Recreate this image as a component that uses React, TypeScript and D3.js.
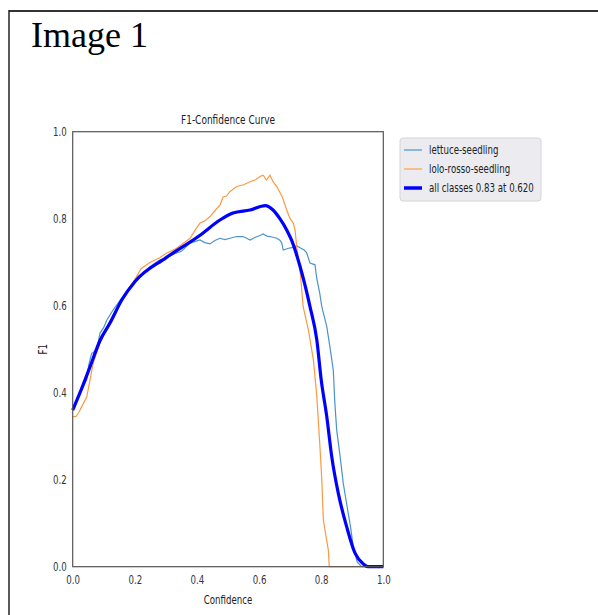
import { useEffect, useRef } from "react";
import * as d3 from "d3";

// F1 values, [confidence, f1]
const lettuceSeedling: [number, number][] = [
  [0, 0.36], [0.007, 0.368], [0.015, 0.385], [0.024, 0.4], [0.034, 0.414], [0.045, 0.43],
  [0.052, 0.465], [0.061, 0.49], [0.07, 0.495], [0.077, 0.498], [0.088, 0.537], [0.1, 0.55],
  [0.11, 0.567], [0.13, 0.59], [0.15, 0.61], [0.17, 0.63], [0.2, 0.655], [0.22, 0.67],
  [0.25, 0.69], [0.28, 0.705], [0.3, 0.71], [0.33, 0.72], [0.35, 0.725], [0.378, 0.744],
  [0.395, 0.748], [0.41, 0.751], [0.425, 0.745], [0.442, 0.742], [0.458, 0.75], [0.474, 0.755],
  [0.49, 0.752], [0.506, 0.755], [0.528, 0.759], [0.548, 0.759], [0.56, 0.755], [0.571, 0.751],
  [0.59, 0.758], [0.605, 0.762], [0.613, 0.765], [0.625, 0.76], [0.635, 0.759], [0.657, 0.755],
  [0.668, 0.75], [0.673, 0.744], [0.678, 0.728], [0.695, 0.732], [0.71, 0.734], [0.72, 0.738],
  [0.732, 0.733], [0.745, 0.728], [0.753, 0.722], [0.764, 0.698], [0.78, 0.694], [0.786, 0.662],
  [0.795, 0.63], [0.802, 0.598], [0.81, 0.575], [0.818, 0.552], [0.828, 0.506], [0.839, 0.452],
  [0.844, 0.376], [0.85, 0.314], [0.861, 0.253], [0.871, 0.192], [0.887, 0.123], [0.895, 0.09],
  [0.903, 0.046], [0.916, 0.011], [0.93, 0], [1.0, 0],
];

const loloRossoSeedling: [number, number][] = [
  [0, 0.345], [0.01, 0.345], [0.02, 0.355], [0.029, 0.368], [0.045, 0.39], [0.056, 0.43],
  [0.066, 0.468], [0.088, 0.514], [0.1, 0.535], [0.12, 0.565], [0.14, 0.59], [0.16, 0.615],
  [0.18, 0.64], [0.2, 0.66], [0.22, 0.685], [0.25, 0.7], [0.28, 0.71], [0.3, 0.72],
  [0.33, 0.73], [0.35, 0.74], [0.378, 0.755], [0.395, 0.775], [0.41, 0.79], [0.425, 0.795],
  [0.442, 0.805], [0.46, 0.82], [0.474, 0.831], [0.484, 0.85], [0.495, 0.852], [0.506, 0.862],
  [0.528, 0.874], [0.55, 0.878], [0.571, 0.885], [0.59, 0.89], [0.603, 0.897], [0.613, 0.9],
  [0.624, 0.889], [0.635, 0.9], [0.645, 0.885], [0.657, 0.874], [0.675, 0.85], [0.689, 0.82],
  [0.7, 0.8], [0.71, 0.79], [0.716, 0.774], [0.721, 0.736], [0.732, 0.682], [0.742, 0.598],
  [0.759, 0.544], [0.775, 0.475], [0.786, 0.391], [0.796, 0.276], [0.802, 0.199], [0.807, 0.107],
  [0.823, 0.038], [0.826, 0], [1.0, 0],
];

const allClasses: [number, number][] = [
  [0, 0.36], [0.0235, 0.4], [0.056, 0.46], [0.088, 0.52], [0.12, 0.56], [0.158, 0.613],
  [0.2, 0.655], [0.3, 0.71], [0.41, 0.762], [0.474, 0.797], [0.516, 0.813], [0.571, 0.82],
  [0.62, 0.83], [0.645, 0.82], [0.667, 0.8], [0.689, 0.774], [0.705, 0.75], [0.732, 0.69],
  [0.764, 0.598], [0.786, 0.521], [0.8, 0.43], [0.818, 0.345], [0.834, 0.253], [0.855, 0.169],
  [0.882, 0.092], [0.909, 0.031], [0.936, 0.006], [0.95, 0], [1.0, 0],
];

const seriesNames = ["lettuce-seedling", "lolo-rosso-seedling", "all classes 0.83 at 0.620"];
const tickValues = [0, 0.2, 0.4, 0.6, 0.8, 1.0];

const SX = 0.72; // the chart picture is squeezed sideways

const App = () => {
  const svgRef = useRef<SVGSVGElement>(null);

  useEffect(() => {
    const svg = d3.select(svgRef.current);
    svg.selectAll("*").remove();

    const font = "'DejaVu Sans', sans-serif";
    const left = 72.7, right = 383.3, top = 131.7, bottom = 566.7;

    // page frame
    svg.append("line").attr("x1", 9).attr("x2", 598).attr("y1", 11).attr("y2", 11)
      .attr("stroke", "#333").attr("stroke-width", 2);
    svg.append("line").attr("x1", 9).attr("x2", 9).attr("y1", 10).attr("y2", 615)
      .attr("stroke", "#222").attr("stroke-width", 1.5);

    svg.append("text").attr("x", 31).attr("y", 47)
      .attr("font-family", "'Liberation Serif', 'Times New Roman', serif")
      .attr("font-size", 36).attr("fill", "#000").text("Image 1");

    const x = d3.scaleLinear().domain([0, 1]).range([left, right]);
    const y = d3.scaleLinear().domain([0, 1]).range([bottom, top]);

    // squeezed text helper
    const label = (tx: number, ty: number, s: string, anchor = "middle", size = 12, rot = 0) =>
      svg.append("text")
        .attr("transform", `translate(${tx},${ty}) rotate(${rot}) scale(${SX},1)`)
        .attr("text-anchor", anchor)
        .attr("font-family", font).attr("font-size", size).attr("fill", "#222")
        .text(s);

    label((left + right) / 2, 124, "F1-Confidence Curve", "middle", 12.5);
    label((left + right) / 2, 604, "Confidence");
    label(47, (top + bottom) / 2, "F1", "middle", 12, -90);

    const yAxis = svg.append("g").attr("transform", `translate(${left},0)`)
      .call(d3.axisLeft(y).tickValues(tickValues).tickSize(0).tickPadding(6).tickFormat(d3.format(".1f")));
    const xAxis = svg.append("g").attr("transform", `translate(0,${bottom})`)
      .call(d3.axisBottom(x).tickValues(tickValues).tickSize(0).tickPadding(9).tickFormat(d3.format(".1f")));
    [yAxis, xAxis].forEach((a) => {
      a.select(".domain").remove();
      a.selectAll("text").attr("font-family", font).attr("font-size", 12).attr("fill", "#333");
    });
    yAxis.selectAll("text").attr("x", -6 / SX).attr("transform", `scale(${SX},1)`);
    xAxis.selectAll("text").attr("transform", `scale(${SX},1)`);

    const line = d3.line<[number, number]>().x((d) => x(d[0])).y((d) => y(d[1]));
    const smooth = d3.line<[number, number]>().x((d) => x(d[0])).y((d) => y(d[1])).curve(d3.curveMonotoneX);

    svg.append("path").datum(lettuceSeedling).attr("d", line)
      .attr("fill", "none").attr("stroke", "#4a94cc").attr("stroke-width", 1.2);
    svg.append("path").datum(loloRossoSeedling).attr("d", line)
      .attr("fill", "none").attr("stroke", "#fb9a45").attr("stroke-width", 1.2);
    svg.append("path").datum(allClasses).attr("d", smooth)
      .attr("fill", "none").attr("stroke", "#0000ff").attr("stroke-width", 3.2)
      .attr("stroke-linejoin", "round");

    svg.append("rect").attr("x", left).attr("y", top)
      .attr("width", right - left).attr("height", bottom - top)
      .attr("fill", "none").attr("stroke", "#555").attr("stroke-width", 1.2);

    // legend
    svg.append("rect").attr("x", 400).attr("y", 138).attr("width", 141).attr("height", 63)
      .attr("rx", 3).attr("fill", "#ebebf0").attr("stroke", "#d4d4dc");
    const colors = ["#6aa6d8", "#fbae6a", "#0000ff"];
    const widths = [1.5, 1.5, 3.5];
    seriesNames.forEach((name, i) => {
      const ly = 150 + i * 19;
      svg.append("line").attr("x1", 404).attr("x2", 422).attr("y1", ly).attr("y2", ly)
        .attr("stroke", colors[i]).attr("stroke-width", widths[i]);
      label(429, ly + 4, name, "start", 12);
    });
  }, []);

  return (
    <svg ref={svgRef} width={598} height={615}
      style={{ position: "absolute", left: 0, top: 0, background: "#fff" }} />
  );
};

export default App;
